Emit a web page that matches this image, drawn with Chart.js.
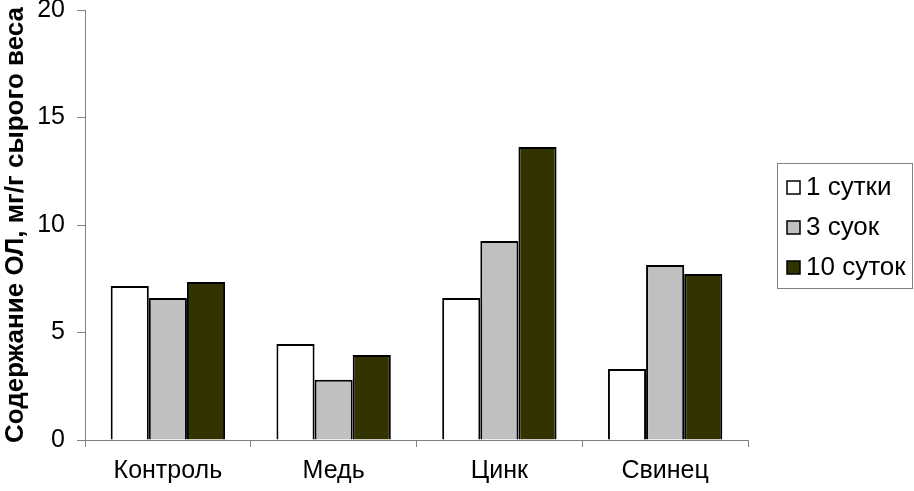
<!DOCTYPE html>
<html>
<head>
<meta charset="utf-8">
<script src="https://cdn.jsdelivr.net/npm/chart.js@4"></script>
<style>
    html, body { margin: 0; padding: 0; background: #fff; }
    #wrap { width: 914px; height: 491px; position: relative; }
</style>
</head>
<body>
<div id="wrap"><canvas id="chart"></canvas></div>
<script>
// data
const categories = ["Контроль", "Медь", "Цинк", "Свинец"]
const seriesNames = ["1 сутки", "3 суок", "10 суток"]
const day1 = [7.16, 4.47, 6.6, 3.3]
const day3 = [6.6, 2.8, 9.26, 8.14]
const day10 = [7.35, 3.95, 13.63, 7.72]
const yTicks = [0, 5, 10, 15, 20]

const colors = ["#ffffff", "#c0c0c0", "#333300"]
const fontFamily = "'Liberation Sans', Arial, sans-serif"

// legend drawn by hand so it sits in a framed box to the right
const boxLegend = {
    id: 'boxLegend',
    afterDraw(chart) {
        const ctx = chart.ctx
        ctx.save()
        ctx.strokeStyle = '#808080'
        ctx.lineWidth = 1
        ctx.strokeRect(777.5, 163.5, 135, 125)
        ctx.font = '26px ' + fontFamily
        ctx.textBaseline = 'middle'
        chart.data.datasets.forEach((ds, i) => {
            const y = 187 + i * 40
            ctx.fillStyle = ds.backgroundColor
            ctx.fillRect(787, y - 6, 13, 13)
            ctx.strokeStyle = '#000'
            ctx.lineWidth = 1.5
            ctx.strokeRect(787, y - 6, 13, 13)
            ctx.fillStyle = '#000'
            ctx.fillText(ds.label, 806, y + 1)
        })
        ctx.restore()
    }
}

const datasets = [day1, day3, day10].map((vals, i) => ({
    label: seriesNames[i],
    data: vals,
    backgroundColor: colors[i],
    borderColor: '#000',
    borderWidth: 2,
    borderSkipped: 'bottom',
    categoryPercentage: 0.69,
    barPercentage: 1.0
}))

new Chart(document.getElementById('chart').getContext('2d'), {
    type: 'bar',
    data: { labels: categories, datasets: datasets },
    plugins: [boxLegend],
    options: {
        responsive: true,
        maintainAspectRatio: false,
        animation: false,
        layout: { padding: { top: 0, right: 166, left: 0, bottom: 0 } },
        plugins: { legend: { display: false }, tooltip: { enabled: false } },
        scales: {
            x: {
                grid: { offset: true, drawOnChartArea: false, drawTicks: true, tickLength: 7, color: '#808080' },
                border: { color: '#808080', width: 1 },
                ticks: { color: '#000', font: { family: fontFamily, size: 25 }, padding: 9, maxRotation: 0 },
                afterFit: s => { s.height = 51 }
            },
            y: {
                min: 0,
                max: 20,
                afterBuildTicks: s => { s.ticks = yTicks.map(v => ({ value: v })) },
                grid: { drawOnChartArea: false, drawTicks: true, tickLength: 8, color: '#808080' },
                border: { color: '#808080', width: 1 },
                ticks: { color: '#000', font: { family: fontFamily, size: 25 }, padding: 12 },
                title: {
                    display: true,
                    text: 'Содержание ОЛ, мг/г сырого веса',
                    color: '#000',
                    font: { family: fontFamily, size: 26, weight: 'bold' },
                    padding: { top: 0, bottom: 0 }
                },
                afterFit: s => {
                    s.width = 85
                    s.paddingTop = 10
                    s.paddingBottom = 0
                }
            }
        }
    }
})
</script>
</body>
</html>
